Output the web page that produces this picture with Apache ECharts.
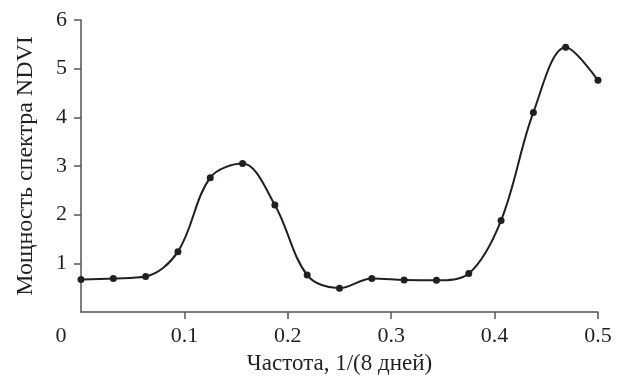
<!DOCTYPE html>
<html>
<head>
<meta charset="utf-8">
<script src="https://cdn.jsdelivr.net/npm/echarts@6/dist/echarts.min.js"></script>
<style>
  html, body { margin: 0; padding: 0; background: #fff; }
  #chart { width: 627px; height: 380px; }
</style>
</head>
<body>
<div id="chart"></div>
<script>
// frequency, 1/(8 days) -> k/32
const freq = [0, 0.03125, 0.0625, 0.09375, 0.125, 0.15625, 0.1875, 0.21875, 0.25,
  0.28125, 0.3125, 0.34375, 0.375, 0.40625, 0.4375, 0.46875, 0.5];
const power = [0.67, 0.69, 0.73, 1.24, 2.76, 3.05, 2.2, 0.76, 0.49,
  0.69, 0.66, 0.65, 0.79, 1.88, 4.1, 5.44, 4.76];
const xTicks = [0.1, 0.2, 0.3, 0.4, 0.5];
const xLabels = [0, 0.1, 0.2, 0.3, 0.4, 0.5];
const yTicks = [1, 2, 3, 4, 5, 6];

const font = "'Liberation Serif', 'Times New Roman', serif";
const ink = '#231f20';

const chart = echarts.init(document.getElementById('chart'), null, { renderer: 'canvas' });

chart.setOption({
  animation: false,
  backgroundColor: '#fff',
  grid: { left: 81, right: 29, top: 20, bottom: 63 },
  xAxis: {
    type: 'value',
    min: 0,
    max: 0.5,
    name: 'Частота, 1/(8 дней)',
    nameLocation: 'middle',
    nameGap: 40,
    nameTextStyle: { color: ink, fontSize: 23, fontFamily: font },
    splitLine: { show: false },
    axisLine: { lineStyle: { color: '#555', width: 1.5 } },
    axisTick: { customValues: xTicks, length: 7, lineStyle: { color: '#555', width: 1.5 } },
    axisLabel: {
      customValues: xLabels,
      margin: 13,
      color: ink,
      fontSize: 22,
      fontFamily: font,
      formatter: v => v === 0 ? '{z|0}' : String(v),
      rich: { z: { padding: [0, 40, 0, 0], fontSize: 22, fontFamily: font, color: ink } }
    }
  },
  yAxis: {
    type: 'value',
    min: 0,
    max: 6,
    name: 'Мощность спектра NDVI',
    nameLocation: 'middle',
    nameGap: 43,
    nameTextStyle: { color: ink, fontSize: 24, fontFamily: font },
    splitLine: { show: false },
    axisLine: { show: true, lineStyle: { color: '#555', width: 1.5 } },
    axisTick: { show: true, customValues: yTicks, length: 7, lineStyle: { color: '#555', width: 1.5 } },
    axisLabel: {
      customValues: yTicks,
      margin: 14,
      color: ink,
      fontSize: 22,
      fontFamily: font
    }
  },
  series: [{
    type: 'line',
    data: freq.map((f, i) => [f, power[i]]),
    smooth: 0.35,
    symbol: 'circle',
    symbolSize: 7,
    lineStyle: { color: ink, width: 2 },
    itemStyle: { color: ink }
  }]
});
</script>
</body>
</html>
